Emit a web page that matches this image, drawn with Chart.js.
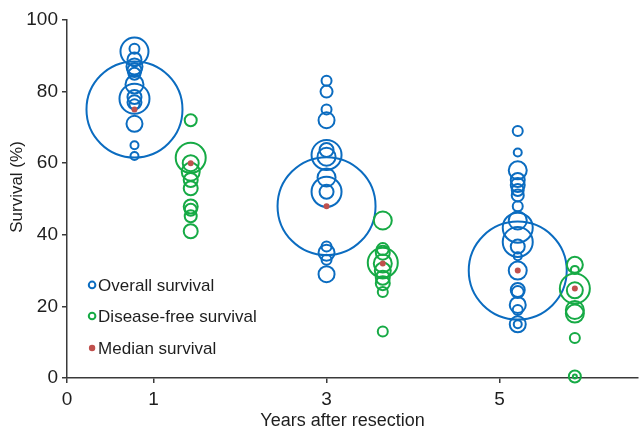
<!DOCTYPE html>
<html>
<head>
<meta charset="utf-8">
<script src="https://cdn.jsdelivr.net/npm/chart.js@4.4.1/dist/chart.umd.min.js"></script>
<style>
	html, body { margin: 0; padding: 0; background: #fff; }
	#wrap { width: 639px; height: 430px; }
</style>
</head>
<body>
<div id="wrap"><canvas id="grafico"></canvas></div>
<script>
// Posição de cada grupo no eixo x (anos)
var osX = [0.78, 3.0, 5.21];
var dfsX = [1.43, 3.65, 5.87];
var xTicks = [0, 1, 3, 5];

// Overall survival (%) e tamanho de cada estudo
var os1 = [92, 91.2, 89, 87, 86, 85, 82, 78.5, 78, 77, 76.5, 71, 65, 62, 75];
var os1Size = [5, 14, 7, 8, 7, 6, 9, 7, 15, 7, 5, 8, 4, 4, 48];
var os3 = [83, 80, 75, 72, 63.7, 62.3, 61.8, 56, 52, 52, 48, 36.7, 35, 33, 29];
var os3Size = [5, 6, 5, 8, 7, 15, 9, 9, 15, 7, 49, 5, 8, 5, 8];
var os5 = [69, 63, 58, 55.3, 53.9, 52.5, 51, 48, 44, 42, 38, 36.7, 34, 30, 30, 24.6, 24, 20.4, 19, 15, 15];
var os5Size = [5, 4, 9, 7, 7, 6, 6, 5, 9, 15, 15, 7, 4, 49, 9, 7, 6, 8, 5, 8, 4];

// Disease-free survival (%)
var dfs1 = [72, 61.5, 60, 57.6, 55.3, 53, 47.9, 47, 45.2, 41];
var dfs1Size = [6, 15, 8, 9, 7, 7, 7, 6, 6, 7];
var dfs3 = [44, 36, 35, 32.2, 32, 30, 28, 26.5, 24, 13];
var dfs3Size = [9, 6, 7, 15, 9, 8, 7, 7, 5, 5];
var dfs5 = [31.6, 30.2, 25, 24.5, 19, 18, 11.2, 0.4, 0.4];
var dfs5Size = [8, 4, 15, 8, 9, 9, 5, 6, 2];

// Mediana
var medianaX = [0.78, 1.43, 3.0, 3.65, 5.21, 5.87];
var mediana = [75, 60, 48, 32, 30, 25];

var tituloX = "Years after resection";
var tituloY = "Survival (%)";

var azul = "#0b6cc0";
var verde = "#16aa45";
var vermelho = "#c0504d";
var eixo = "#3a3a3a";
var texto = "#1e1e1e";
var fonte = "'Liberation Sans', Arial, sans-serif";

function montarPontos(x, valores, tamanhos) {
	var pontos = [];
	for (var i = 0; i < valores.length; i++) {
		pontos.push({ x: x, y: valores[i], r: tamanhos[i] });
	}
	return pontos;
}

var dadosOS = montarPontos(osX[0], os1, os1Size)
	.concat(montarPontos(osX[1], os3, os3Size))
	.concat(montarPontos(osX[2], os5, os5Size));
var dadosDFS = montarPontos(dfsX[0], dfs1, dfs1Size)
	.concat(montarPontos(dfsX[1], dfs3, dfs3Size))
	.concat(montarPontos(dfsX[2], dfs5, dfs5Size));
var dadosMediana = [];
for (var i = 0; i < mediana.length; i++) {
	dadosMediana.push({ x: medianaX[i], y: mediana[i], r: 3 });
}

// Legenda e títulos dos eixos desenhados à mão
var legendaPlugin = {
	id: "legendaInterna",
	afterDraw: function (chart) {
		var ctx = chart.ctx;
		var area = chart.chartArea;
		var xs = chart.scales.x;
		var ys = chart.scales.y;
		var itens = [
			{ texto: "Overall survival", cor: azul, tipo: "aberto", y: 26 },
			{ texto: "Disease-free survival", cor: verde, tipo: "aberto", y: 17.3 },
			{ texto: "Median survival", cor: vermelho, tipo: "cheio", y: 8.4 },
		];
		var px = xs.getPixelForValue(0.29);
		ctx.save();
		ctx.font = "17px " + fonte;
		ctx.textBaseline = "middle";
		for (var i = 0; i < itens.length; i++) {
			var py = ys.getPixelForValue(itens[i].y);
			ctx.beginPath();
			if (itens[i].tipo == "aberto") {
				ctx.arc(px, py, 3.3, 0, Math.PI * 2);
				ctx.lineWidth = 2;
				ctx.strokeStyle = itens[i].cor;
				ctx.stroke();
			} else {
				ctx.arc(px, py, 3.2, 0, Math.PI * 2);
				ctx.fillStyle = itens[i].cor;
				ctx.fill();
			}
			ctx.fillStyle = texto;
			ctx.fillText(itens[i].texto, px + 6, py + 1);
		}

		// título do eixo x
		ctx.textAlign = "center";
		ctx.font = "18px " + fonte;
		ctx.fillText(tituloX, (area.left + area.right) / 2 - 10, area.bottom + 43);

		// título do eixo y
		ctx.translate(17, (area.top + area.bottom) / 2 - 12);
		ctx.rotate(-Math.PI / 2);
		ctx.font = "17px " + fonte;
		ctx.fillText(tituloY, 0, 0);
		ctx.restore();
	},
};

new Chart(document.getElementById("grafico"), {
	type: "bubble",
	data: {
		datasets: [
			{
				label: "Median survival",
				data: dadosMediana,
				backgroundColor: vermelho,
				borderWidth: 0,
				order: 0,
				clip: false,
			},
			{
				label: "Overall survival",
				data: dadosOS,
				backgroundColor: "rgba(0,0,0,0)",
				borderColor: azul,
				borderWidth: 2,
				order: 2,
				clip: false,
			},
			{
				label: "Disease-free survival",
				data: dadosDFS,
				backgroundColor: "rgba(0,0,0,0)",
				borderColor: verde,
				borderWidth: 2,
				order: 1,
				clip: false,
			},
		],
	},
	options: {
		responsive: true,
		maintainAspectRatio: false,
		animation: false,
		layout: { autoPadding: false, padding: { top: 20, right: 1, left: 0, bottom: 0 } },
		plugins: {
			legend: { display: false },
			tooltip: { enabled: false },
		},
		elements: { point: { hoverRadius: 0 } },
		scales: {
			x: {
				type: "linear",
				min: 0,
				max: 6.6,
				afterBuildTicks: function (scale) {
					scale.ticks = xTicks.map(function (v) { return { value: v }; });
				},
				afterFit: function (scale) { scale.height = 52; },
				grid: { drawOnChartArea: false, drawTicks: true, tickLength: 5, color: eixo, lineWidth: 1.5 },
				border: { color: eixo, width: 1.5 },
				ticks: { color: texto, font: { family: fonte, size: 19 }, padding: 5, maxRotation: 0 },
				title: { display: false },
			},
			y: {
				min: 0,
				max: 100,
				afterFit: function (scale) { scale.width = 67; },
				grid: { drawOnChartArea: false, drawTicks: true, tickLength: 5, color: eixo, lineWidth: 1.5 },
				border: { color: eixo, width: 1.5 },
				ticks: { stepSize: 20, color: texto, font: { family: fonte, size: 19 }, padding: 4 },
				title: { display: false },
			},
		},
	},
	plugins: [legendaPlugin],
});
</script>
</body>
</html>
